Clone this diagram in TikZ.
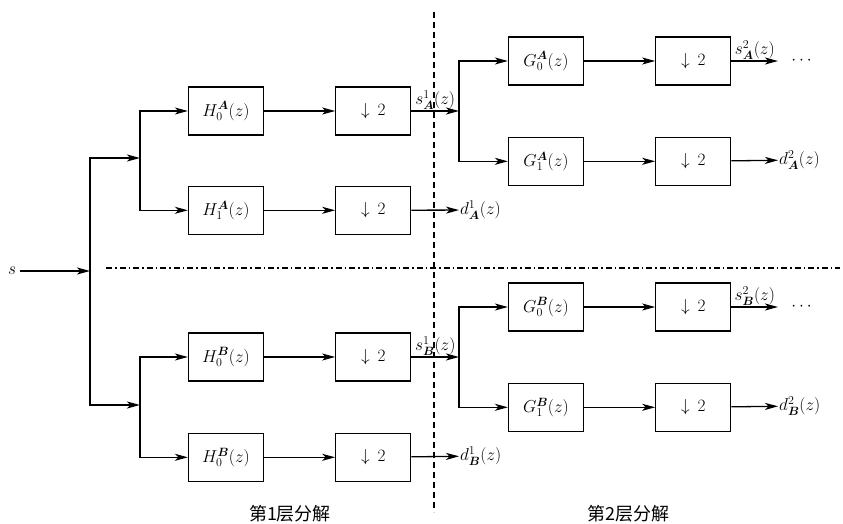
\documentclass[tikz,border=0pt]{standalone}
\usepackage{amsmath,bm}
\usepackage{fontspec}
\newfontfamily\cjk{Noto Sans CJK SC}
\usetikzlibrary{arrows.meta, positioning}

\begin{document}
\begin{tikzpicture}[
  x=1pt, y=-1pt, >={Stealth[length=13pt,width=7pt,inset=3.5pt]},
  font=\fontsize{17.5}{20}\selectfont,
  box/.style={draw, line width=1.3pt, minimum width=75pt,
              minimum height=48pt, inner sep=0pt},
  arr/.style={line width=1.3pt, ->},
  lbl/.style={inner sep=1pt},
  vsep/.style={line width=1.2pt, dash pattern=on 6pt off 4pt},
  hsep/.style={line width=1.2pt, dash pattern=on 6pt off 3pt on 1.5pt off 3pt},
  levtxt/.style={font=\fontsize{18}{20}\selectfont\cjk}
]
  \useasboundingbox (0,0) rectangle (843,524);

  \node[box] (H0A) at (226,111) {$H_0^{\bm A}(z)$};
  \node[box, below=50pt of H0A] (H1A) {$H_1^{\bm A}(z)$};
  \node[box, right=71pt of H0A] (D0A) {$\downarrow\,2$};
  \node[box, right=71pt of H1A] (D1A) {$\downarrow\,2$};
  \node[box] (G0A) at (546,61) {$G_0^{\bm A}(z)$};
  \node[box, below=51pt of G0A] (G1A) {$G_1^{\bm A}(z)$};
  \node[box, right=71pt of G0A] (E0A) {$\downarrow\,2$};
  \node[box, right=71pt of G1A] (E1A) {$\downarrow\,2$};

  \node[box] (H0B) at (226,357) {$H_0^{\bm B}(z)$};
  \node[box, below=51pt of H0B] (H1B) {$H_0^{\bm B}(z)$};
  \node[box, right=71pt of H0B] (D0B) {$\downarrow\,2$};
  \node[box, right=71pt of H1B] (D1B) {$\downarrow\,2$};
  \node[box] (G0B) at (546,307) {$G_0^{\bm B}(z)$};
  \node[box, below=51pt of G0B] (G1B) {$G_1^{\bm B}(z)$};
  \node[box, right=71pt of G0B] (E0B) {$\downarrow\,2$};
  \node[box, right=71pt of G1B] (E1B) {$\downarrow\,2$};

  \node (s) at (12,271) {$s$};
  \coordinate (jS) at (90,271);
  \coordinate (jA) at (140,158);
  \coordinate (jB) at (140,405);
  \coordinate (kA) at (459,111);
  \coordinate (kB) at (459,357);
  \coordinate (oA) at (778,61);
  \coordinate (oB) at (778,307);
  \node[anchor=west, lbl] (dA1) at (459,210) {$d_{\bm A}^1(z)$};
  \node[anchor=west, lbl] (dB1) at (459,456) {$d_{\bm B}^1(z)$};
  \node[anchor=west, lbl] (dA2) at (778,160) {$d_{\bm A}^2(z)$};
  \node[anchor=west, lbl] (dB2) at (778,406) {$d_{\bm B}^2(z)$};
  \node (moreA) at (803,61) {$\cdots$};
  \node (moreB) at (803,307) {$\cdots$};

  \draw[arr] (s) -- (jS);
  \draw[arr] (jS) |- (jA);
  \draw[arr] (jS) |- (jB);
  \draw[arr] (jA) |- (H0A);
  \draw[arr] (jA) |- (H1A);
  \draw[arr] (jB) |- (H0B);
  \draw[arr] (jB) |- (H1B);
  \foreach \a/\b in {H0A/D0A, H1A/D1A, G0A/E0A, G1A/E1A,
                     H0B/D0B, H1B/D1B, G0B/E0B, G1B/E1B}
    \draw[arr] (\a) -- (\b);
  \draw[arr] (D0A) -- (kA) node[midway, above, lbl] {$s_{\bm A}^1(z)$};
  \draw[arr] (D0B) -- (kB) node[midway, above, lbl] {$s_{\bm B}^1(z)$};
  \draw[arr] (D1A) -- (dA1);
  \draw[arr] (D1B) -- (dB1);
  \draw[arr] (kA) |- (G0A);
  \draw[arr] (kA) |- (G1A);
  \draw[arr] (kB) |- (G0B);
  \draw[arr] (kB) |- (G1B);
  \draw[arr] (E0A) -- (oA) node[midway, above, lbl] {$s_{\bm A}^2(z)$};
  \draw[arr] (E0B) -- (oB) node[midway, above, lbl] {$s_{\bm B}^2(z)$};
  \draw[arr] (E1A) -- (dA2);
  \draw[arr] (E1B) -- (dB2);

  \draw[vsep] (434,12) -- (434,512);
  \draw[hsep] (106,268) -- (840,268);

  \node[levtxt] (lev1) at (290,514) {第1层分解};
  \node[levtxt] (lev2) at (628,514) {第2层分解};
\end{tikzpicture}
\end{document}
